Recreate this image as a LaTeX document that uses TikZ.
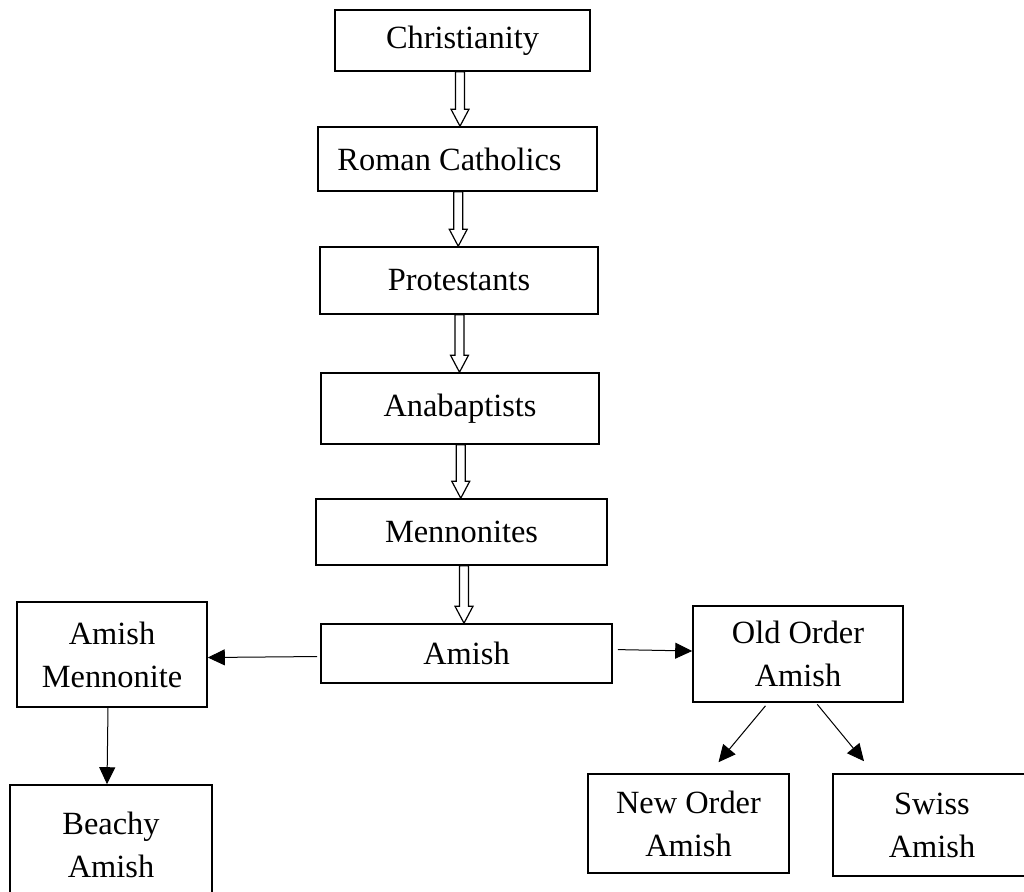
\documentclass[tikz,border=0pt]{standalone}
\usepackage{fontspec}
\setmainfont{Liberation Serif}
\usetikzlibrary{arrows.meta, calc}

\begin{document}
\begin{tikzpicture}
      [x = 0.5pt, y = -0.5pt,
        box/.style={draw, line width = 0.8pt, align = center, inner sep = 0pt,
          font = \fontsize{16.2}{21.5}\selectfont},
        link/.style={line width = 0.5pt, -{Triangle[length = 8.5pt, width = 8pt]}},
        hollow/.style={draw, line width = 0.6pt, fill = white}]
    \useasboundingbox (0,0) rectangle (1024,891);
    \clip (0,0) rectangle (1024,891);
    % main line, top to bottom
    \node[box, minimum width = 127.5pt, minimum height = 30.5pt] (chr) at (462.5,40.5) {Christianity};
    \node[box, minimum width = 139.5pt, minimum height = 32pt] (rc) at (457.5,159) {Roman Catholics\hspace{8pt}};
    \node[box, minimum width = 139pt, minimum height = 33.5pt] (prot) at (459,280.5) {Protestants};
    \node[box, minimum width = 139pt, minimum height = 35.5pt] (ana) at (460,408.5) {Anabaptists};
    \node[box, minimum width = 145.5pt, minimum height = 33pt] (men) at (461.5,532) {Mennonites};
    \node[box, minimum width = 145.5pt, minimum height = 29.5pt] (amish) at (466.5,653.5) {Amish};
    % branches
    \node[box, minimum width = 95pt, minimum height = 52.5pt] (amen) at (112,654.5) {Amish\\Mennonite};
    \node[box, minimum width = 101pt, minimum height = 60pt] (beachy) at (111,845) {Beachy\\Amish};
    \node[box, minimum width = 105pt, minimum height = 48pt] (old) at (798,654) {Old Order\\Amish};
    \node[box, minimum width = 100.5pt, minimum height = 49.5pt] (new) at (688.5,823.5) {New Order\\Amish};
    \node[box, minimum width = 99pt, minimum height = 51pt] (swiss) at (932,825) {Swiss\\Amish};

    \foreach \a/\b in {chr/rc, rc/prot, prot/ana, ana/men, men/amish}
      \draw[hollow] let \p1 = ($(\a.south)!.5!(\b.north)$), \p2 = (\a.south), \p3 = (\b.north) in
        ({\x1-2.25pt},\y2) -- ({\x1-2.25pt},{\y3+8.5pt}) -- ({\x1-4.5pt},{\y3+8.5pt}) -- (\x1,\y3)
        -- ({\x1+4.5pt},{\y3+8.5pt}) -- ({\x1+2.25pt},{\y3+8.5pt}) -- ({\x1+2.25pt},\y2) -- cycle;

    \draw[link, shorten <= 1.5pt] ([yshift = -1.5pt]amish.west) -- ([yshift = -1.5pt]amen.east);
    \draw[link, shorten <= 2.5pt] ([yshift = 2pt]amish.east) -- ([yshift = 1.5pt]old.west);
    \draw[link] ([xshift = -2pt]amen.south) -- ([xshift = -2pt]beachy.north);
    \draw[link, shorten <= 2pt] ([xshift = -15pt]old.south) -- ([xshift = 15pt, yshift = 5.5pt]new.north);
    \draw[link, shorten <= 1pt] ([xshift = 9pt]old.south) -- ([xshift = -34pt, yshift = 6pt]swiss.north);
\end{tikzpicture}
\end{document}
